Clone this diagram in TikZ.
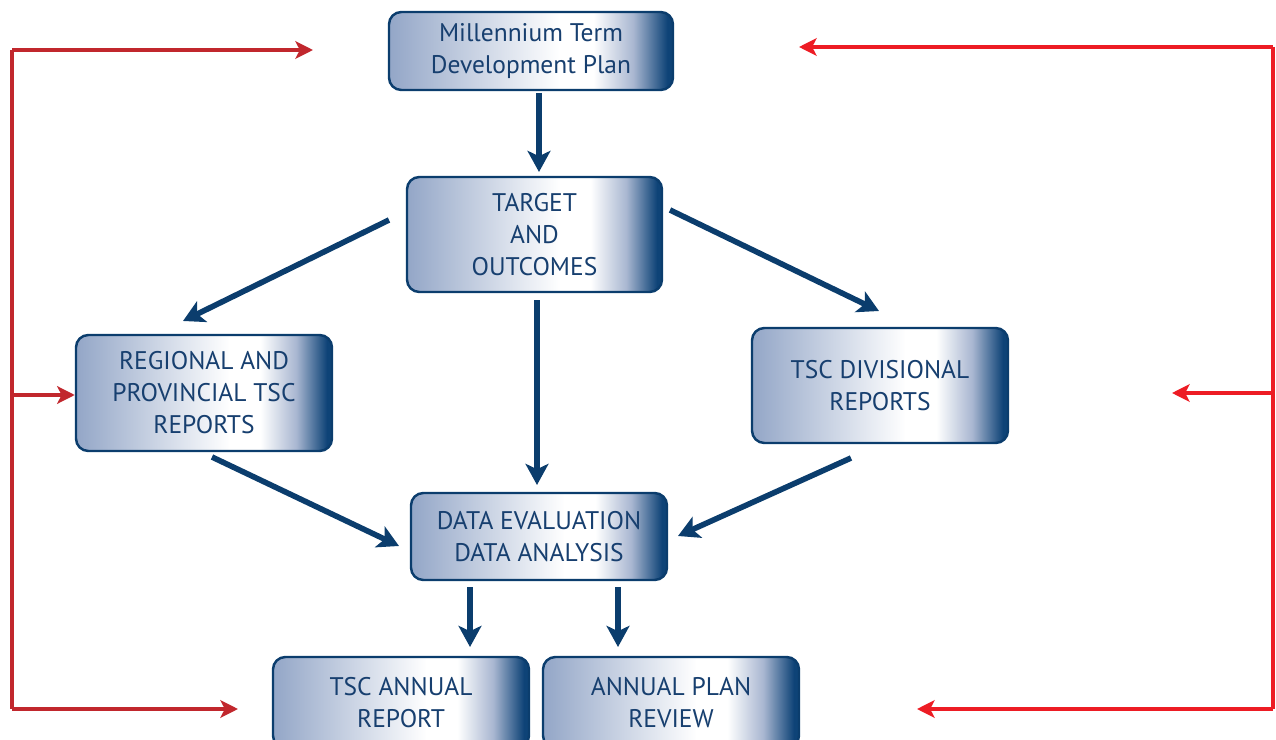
\documentclass[tikz,border=0pt]{standalone}
\usepackage{fontspec}
\setmainfont{PT Sans}
\usetikzlibrary{arrows.meta}

\definecolor{navy}{HTML}{0B3D6D}
\definecolor{txtblue}{HTML}{173F6F}
\definecolor{boxleft}{HTML}{93A6C7}
\definecolor{boxmid}{HTML}{A9B7D1}
\definecolor{boxright}{HTML}{0E4377}
\definecolor{darkred}{HTML}{C1272D}
\definecolor{brightred}{HTML}{ED1C24}

\pgfdeclarehorizontalshading{boxshade}{100bp}{color(0bp)=(boxleft); color(25bp)=(boxleft);
  color(55bp)=(white); color(61bp)=(white); color(68bp)=(boxmid); color(74bp)=(boxright);
  color(100bp)=(boxright)}

\tikzset{
  stage/.style={draw=navy, line width=1.4pt, rounded corners=7pt, shading=boxshade,
    text=txtblue, align=center, inner sep=0pt, minimum width=256*0.02cm,
    font=\fontsize{14.5}{18.2}\selectfont},
  flow/.style={draw=navy, line width=3.2pt, -{Stealth[length=12pt, width=13pt, inset=3pt]}},
  loopL/.style={draw=darkred, line width=2.6pt, -{Stealth[length=10pt, width=10pt, inset=2.5pt]}},
  loopR/.style={draw=brightred, line width=2.6pt, -{Stealth[length=10pt, width=10pt, inset=2.5pt]}}
}

\begin{document}
\begin{tikzpicture}[x=0.02cm, y=-0.02cm]
  \useasboundingbox (0,0) rectangle (1276,740);

  % Boxes
  \node[stage, minimum width=284*0.02cm, minimum height=78*0.02cm] (plan) at (531,51)
    {Millennium Term\\Development Plan};
  \node[stage, minimum width=255*0.02cm, minimum height=115*0.02cm] (target) at (534.5,234.5)
    {TARGET\\AND\\OUTCOMES};
  \node[stage, minimum height=116*0.02cm] (regional) at (204,393)
    {REGIONAL AND\\PROVINCIAL TSC\\REPORTS};
  \node[stage, minimum height=115*0.02cm] (divisional) at (880,385.5)
    {TSC DIVISIONAL\\REPORTS};
  \node[stage, minimum height=87*0.02cm] (evaluation) at (539,536.5)
    {DATA EVALUATION\\DATA ANALYSIS};
  \node[stage, minimum height=91*0.02cm] (annual) at (401,702.5)
    {TSC ANNUAL\\REPORT};
  \node[stage, minimum height=91*0.02cm] (review) at (671,702.5)
    {ANNUAL PLAN\\REVIEW};

  % Arrow ends
  \coordinate (t1) at (539,93);   \coordinate (t2) at (539,172);
  \coordinate (a1) at (389,220);  \coordinate (a2) at (183,321);
  \coordinate (b1) at (537,300);  \coordinate (b2) at (537,485);
  \coordinate (c1) at (670,210);  \coordinate (c2) at (879,311);
  \coordinate (d1) at (212,457);  \coordinate (d2) at (399,546);
  \coordinate (e1) at (851,458);  \coordinate (e2) at (678,536);
  \coordinate (f1) at (470,587);  \coordinate (f2) at (470,647);
  \coordinate (g1) at (618,587);  \coordinate (g2) at (618,647);

  \draw[flow] (t1) -- (t2);
  \draw[flow] (a1) -- (a2);
  \draw[flow] (b1) -- (b2);
  \draw[flow] (c1) -- (c2);
  \draw[flow] (d1) -- (d2);
  \draw[flow] (e1) -- (e2);
  \draw[flow] (f1) -- (f2);
  \draw[flow] (g1) -- (g2);

  % Feedback loops
  \coordinate (lTop) at (12,50);   \coordinate (lTopEnd) at (313,50);
  \coordinate (lMid) at (12,395);
  \coordinate (lBot) at (12,709);  \coordinate (lBotEnd) at (238,709);
  \coordinate (rTop) at (1273,47); \coordinate (rTopEnd) at (799,47);
  \coordinate (rMid) at (1273,393); \coordinate (rMidEnd) at (1172,393);
  \coordinate (rBot) at (1273,709); \coordinate (rBotEnd) at (917,709);

  \draw[darkred, line width=2.6pt] (lTop) -- (lBot);
  \draw[loopL] (lTop) -- (lTopEnd);
  \draw[loopL] (lMid) -- (lMid -| regional.west);
  \draw[loopL] (lBot) -- (lBotEnd);
  \draw[brightred, line width=2.6pt] (rTop) -- (rBot);
  \draw[loopR] (rTop) -- (rTopEnd);
  \draw[loopR] (rMid) -- (rMidEnd);
  \draw[loopR] (rBot) -- (rBotEnd);
\end{tikzpicture}
\end{document}
